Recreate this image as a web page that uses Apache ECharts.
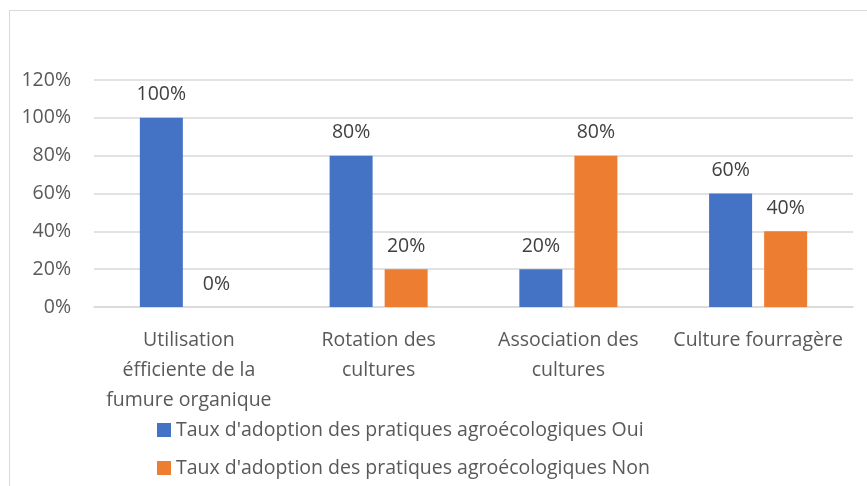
<!DOCTYPE html>
<html>
<head>
<meta charset="utf-8">
<script src="https://cdn.jsdelivr.net/npm/echarts@6/dist/echarts.min.js"></script>
<style>
  html, body { margin: 0; padding: 0; background: #fff; }
  #frame { position: absolute; left: 9px; top: 10px; width: 900px; height: 520px; border: 1px solid #d9d9d9; }
  #chart { position: absolute; left: 0; top: 0; width: 867px; height: 486px; }
</style>
</head>
<body>
<div id="frame"></div>
<div id="chart"></div>
<script>
  const categories = [
    'Utilisation\néfficiente de la\nfumure organique',
    'Rotation des\ncultures',
    'Association des\ncultures',
    'Culture fourragère'
  ];
  const oui = [100, 80, 20, 60];
  const non = [0, 20, 80, 40];
  const seriesNames = [
    "Taux d'adoption des pratiques agroécologiques Oui",
    "Taux d'adoption des pratiques agroécologiques Non"
  ];

  const font = 'Open Sans';
  const fs = 19.5;
  const labelStyle = {
    show: true,
    position: 'top',
    distance: 13,
    formatter: p => p.value + '%',
    color: '#404040',
    fontFamily: font,
    fontSize: fs
  };

  const chart = echarts.init(document.getElementById('chart'));
  chart.setOption({
    animation: false,
    color: ['#4472C4', '#ED7D31'],
    grid: { left: 94, right: 14, top: 80, bottom: 179 },
    legend: {
      orient: 'vertical',
      left: 152,
      top: 415,
      itemGap: 18,
      itemWidth: 14,
      itemHeight: 14,
      itemStyle: { borderWidth: 0 },
      icon: 'rect',
      textStyle: { color: '#595959', fontFamily: font, fontSize: fs },
      data: seriesNames
    },
    xAxis: {
      type: 'category',
      data: categories,
      axisLine: { lineStyle: { color: '#d9d9d9', width: 1.5 } },
      axisTick: { show: false },
      axisLabel: {
        color: '#595959',
        fontFamily: font,
        fontSize: fs,
        lineHeight: 30,
        margin: 18,
        interval: 0
      }
    },
    yAxis: {
      type: 'value',
      min: 0,
      max: 120,
      interval: 20,
      axisLine: { show: false },
      axisTick: { show: false },
      splitLine: { lineStyle: { color: '#d9d9d9', width: 1.5 } },
      axisLabel: {
        formatter: '{value}%',
        color: '#595959',
        fontFamily: font,
        fontSize: fs,
        margin: 23
      }
    },
    series: [
      {
        name: seriesNames[0],
        type: 'bar',
        data: oui,
        barWidth: 43,
        barGap: '28%',
        label: labelStyle
      },
      {
        name: seriesNames[1],
        type: 'bar',
        data: non,
        barWidth: 43,
        label: labelStyle
      }
    ]
  });
</script>
</body>
</html>
